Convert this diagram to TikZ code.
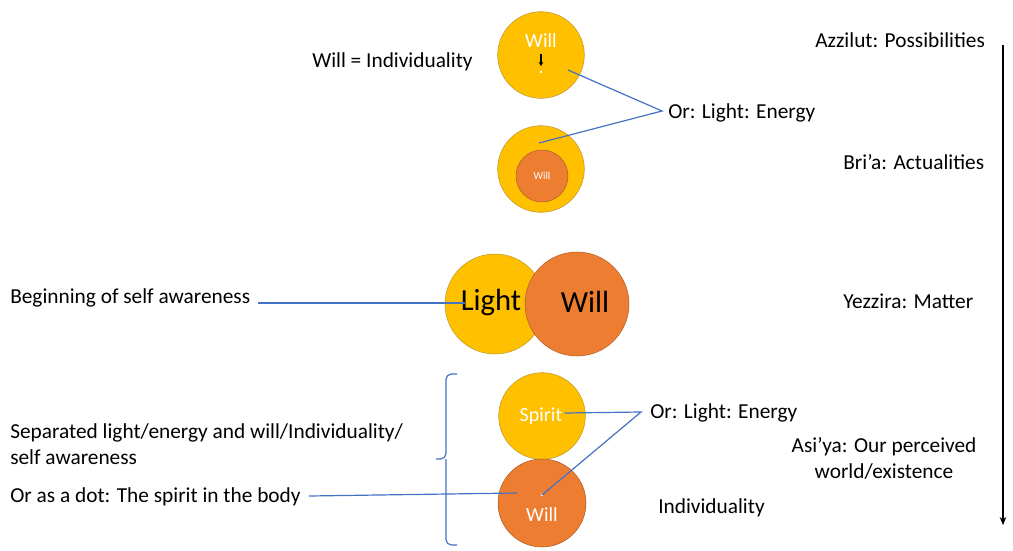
\documentclass[tikz,border=0pt]{standalone}
\usepackage{fontspec}
\setmainfont{Carlito}
\usetikzlibrary{arrows.meta,positioning,calc}
\definecolor{lgold}{HTML}{FFC000}
\definecolor{lgoldd}{HTML}{C09A2A}
\definecolor{worange}{HTML}{ED7D31}
\definecolor{worangd}{HTML}{B0602A}
\definecolor{lnblue}{HTML}{4472C4}
\tikzset{
  gball/.style={circle, draw=lgoldd, fill=lgold, inner sep=0pt},
  oball/.style={circle, draw=worangd, fill=worange, inner sep=0pt},
  lbl/.style={font=\fontsize{16}{19.5}\selectfont, inner sep=0pt, anchor=west, text=black},
  inlbl/.style={text=white, font=\fontsize{15}{18}\selectfont, inner sep=0pt},
  biglbl/.style={text=black, font=\fontsize{23}{26}\selectfont, inner sep=0pt},
  ptr/.style={lnblue, line width=0.9pt},
}

\begin{document}
\begin{tikzpicture}[x=0.75pt, y=-0.75pt]
  \useasboundingbox (0,0) rectangle (1013,550);
  % Azzilut: will inside light
  \node[gball, minimum size=65pt] (azz) at (541,55) {};
  \node[inlbl] (azzw) at (541,41) {Will};
  \coordinate (azzt) at (541,54);
  \coordinate (azzb) at (541,66);
  \draw[-{Stealth[length=3pt,width=3.5pt]}, line width=0.8pt] (azzt) -- (azzb);
  \fill[white] (541,72) circle (1.3);
  \coordinate (azzdot) at (568,70);
  % Bri'a
  \node[gball, minimum size=65pt] (bri) at (541,169) {};
  \node[oball, minimum size=39pt] (briw) at (542,176) {};
  \node[inlbl, font=\fontsize{8}{9}\selectfont] at (briw) {Will};
  \coordinate (bridot) at (539,143);
  % Yezzira
  \node[gball, minimum size=75pt] (light) at (495,304) {};
  \node[oball, minimum size=78pt] (will) at (577,304) {};
  \node[biglbl] (lightt) at (491,302) {Light};
  \node[biglbl] (willt) at (585,302) {Will};
  % Asi'ya
  \node[gball, minimum size=65pt] (spirit) at (542,416) {};
  \node[inlbl] (spiritt) at (541,416) {Spirit};
  \node[oball, minimum size=66pt] (body) at (542,503) {};
  \node[inlbl] (bodyt) at (542,515) {Will};
  \fill[white] (542,495) circle (1.3);
  \coordinate (bodydot) at (542,495);
  \coordinate (bodyin) at (517,493);

  % labels left
  \node[lbl] (indiv) at (312,62) {Will = Individuality};
  \node[lbl] (begin) at (10,298) {Beginning of self awareness};
  \node[lbl, align=left, anchor=north west] (sep) at (10,423) {Separated light/energy and will/Individuality/\\self awareness};
  \node[lbl] (dot) at (10,497) {Or as a dot: The spirit in the body};
  % labels right
  \node[lbl] (or1) at (668,113) {Or: Light: Energy};
  \node[lbl] (or2) at (650,413) {Or: Light: Energy};
  \node[lbl] (ind2) at (658,508) {Individuality};
  \node[lbl] (azzl) at (815,40) {Azzilut: Possibilities};
  \node[lbl] (bril) at (843,162) {Bri’a: Actualities};
  \node[lbl] (yezl) at (843,301) {Yezzira: Matter};
  \node[lbl, align=center, anchor=center] (asil) at (884,458) {Asi’ya: Our perceived\\world/existence};

  % pointers
  \coordinate (or1p) at (662,111);
  \coordinate (or2p) at (641,412);
  \draw[ptr] (azzdot) -- (or1p) -- (bridot);
  \draw[ptr] (spiritt.east) ++(2,-3) -- (or2p) -- (bodydot);
  \draw[ptr] ($(begin.east)+(8,5)$) -- (465,303);
  \draw[ptr] (dot.east) ++(8,-1) -- (bodyin);
  % brace
  \draw[ptr, rounded corners=4pt] (457,374) -- (446,374) -- (446,459) -- (436,459);
  \draw[ptr, rounded corners=4pt] (446,459) -- (446,545) -- (457,545);
  % descent
  \coordinate (topw) at (1003,45);
  \coordinate (botw) at (1003,525);
  \draw[-{Stealth[length=6pt,width=5pt]}, line width=0.8pt] (topw) -- (botw);
\end{tikzpicture}
\end{document}
